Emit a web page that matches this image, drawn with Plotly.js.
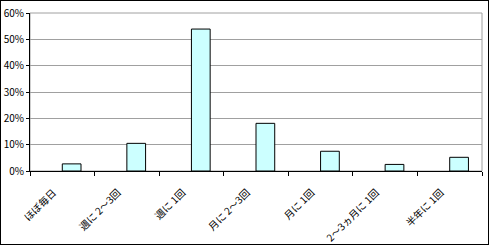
<!DOCTYPE html>
<html><head><meta charset="utf-8">
<script src="https://cdn.plot.ly/plotly-3.0.1.min.js"></script>
<style>
html,body{margin:0;padding:0;background:#fff;}
#wrap{width:487px;height:243px;border:1px solid #000;}
#chart{width:487px;height:243px;}
</style></head>
<body><div id="wrap"><div id="chart"></div></div>
<script>
const categories = ["ほぼ毎日","週に 2～3回","週に 1回","月に 2～3回","月に 1回","2～3ヵ月に 1回","半年に 1回"];
const values = [2.7, 10.5, 53.9, 18.1, 7.5, 2.5, 5.2];
const yTicks = [0, 10, 20, 30, 40, 50, 60];

const font = {family: '"Noto Sans CJK JP", "DejaVu Sans", sans-serif', size: 10, color: '#000'};
const xfont = {family: '"Noto Sans CJK JP", "DejaVu Sans", sans-serif', size: 10, color: '#000'};

Plotly.newPlot('chart', [{
  type: 'bar',
  x: categories,
  y: values,
  offset: 0,
  width: 0.29,
  marker: {color: '#CCFFFF', line: {color: '#000', width: 1}},
  hoverinfo: 'skip'
}], {
  width: 487, height: 243,
  margin: {l: 29, r: 6, t: 12, b: 73, pad: 0},
  paper_bgcolor: '#fff', plot_bgcolor: '#fff',
  font: font,
  showlegend: false,
  bargap: 0,
  xaxis: {
    type: 'category',
    tickson: 'boundaries',
    ticks: 'outside', ticklen: 4, tickcolor: '#000', tickwidth: 1,
    showline: true, linecolor: '#000', linewidth: 1,
    showgrid: false,
    tickangle: -45,
    ticklabelstandoff: 11,
    ticklabelshift: -9,
    tickfont: xfont,
    fixedrange: true
  },
  yaxis: {
    range: [0, 60],
    tickvals: yTicks,
    ticktext: yTicks.map(v => v + '%'),
    ticks: 'outside', ticklen: 3, tickcolor: '#000',
    showline: true, linecolor: '#000', linewidth: 1,
    showgrid: true, gridcolor: '#A0A0A0', gridwidth: 1,
    zeroline: false,
    tickfont: font,
    fixedrange: true
  },
  shapes: [{
    type: 'rect', xref: 'paper', yref: 'paper', x0: 0, x1: 1, y0: 0, y1: 1,
    line: {color: '#A0A0A0', width: 1}, layer: 'below'
  }]
}, {displayModeBar: false, staticPlot: true});
</script></body></html>
